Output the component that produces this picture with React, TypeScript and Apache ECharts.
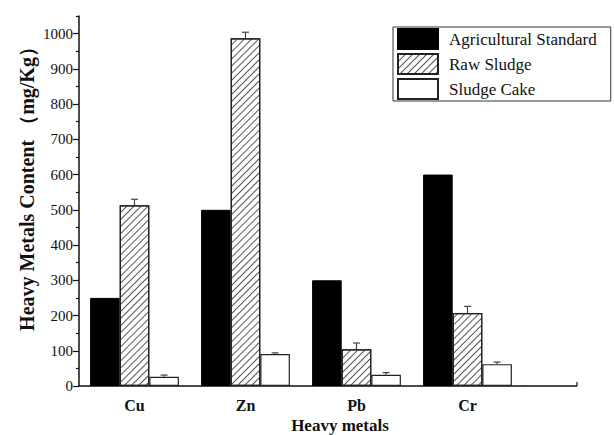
import React, { useEffect, useRef } from 'react';
import * as echarts from 'echarts';

// Heavy metal contents (mg/Kg)
const metals = ['Cu', 'Zn', 'Pb', 'Cr'];
const agriculturalStandard = [250, 500, 300, 600];
const rawSludge = [513, 987, 104, 207];
const rawSludgeErr = [17, 17, 18, 19];
const sludgeCake = [26, 91, 32, 62];
const sludgeCakeErr = [5, 3, 6, 6];

const yMajorTicks = [0, 100, 200, 300, 400, 500, 600, 700, 800, 900, 1000];
const yMinorTicks = [50, 150, 250, 350, 450, 550, 650, 750, 850, 950, 1050];
const Y_MAX = 1050;

const SERIF = 'Liberation Serif';

// plot frame in pixels
const GRID_LEFT = 79;
const GRID_TOP = 16;
const GRID_RIGHT_EDGE = 523;
const AXIS_Y = 386;
const AXIS_END = 577;
const W = 614;
const H = 435;

const BAR_CATEGORY_GAP = 0.2;

function errorBars(values: number[], errs: number[], slot: number) {
  return {
    type: 'custom',
    xAxisIndex: 0,
    yAxisIndex: 0,
    z: 5,
    silent: true,
    data: metals.map((_, i) => [i, values[i], values[i] + errs[i]]),
    encode: { x: 0, y: [1, 2] },
    renderItem: (_params: any, api: any) => {
      const base = api.coord([api.value(0), api.value(1)]);
      const top = api.coord([api.value(0), api.value(2)]);
      const band = api.size([1, 0])[0];
      const bw = (band * (1 - BAR_CATEGORY_GAP)) / 3;
      const x = base[0] + (slot - 1) * bw;
      const cap = 3.5;
      const style = { stroke: '#444', lineWidth: 1.2 };
      return {
        type: 'group',
        children: [
          { type: 'line', shape: { x1: x, y1: base[1], x2: x, y2: top[1] }, style },
          { type: 'line', shape: { x1: x - cap, y1: top[1], x2: x + cap, y2: top[1] }, style },
        ],
      };
    },
  };
}

export default function App() {
  const ref = useRef<HTMLDivElement>(null);

  useEffect(() => {
    if (!ref.current) return;
    const chart = echarts.init(ref.current, null, { renderer: 'svg' });

    const regular = { fontFamily: SERIF, fontWeight: 'normal', fontStyle: 'normal' };

    const option: any = {
      animation: false,
      backgroundColor: '#fff',
      textStyle: { ...regular },
      grid: {
        left: GRID_LEFT,
        top: GRID_TOP,
        right: W - GRID_RIGHT_EDGE,
        bottom: H - AXIS_Y,
        containLabel: false,
      },
      legend: {
        orient: 'vertical',
        left: 393,
        top: 27,
        data: ['Agricultural Standard', 'Raw Sludge', 'Sludge Cake'],
        selectedMode: false,
        icon: 'rect',
        itemWidth: 40,
        itemHeight: 20,
        itemGap: 3,
        padding: [1, 14, 1, 4],
        borderColor: '#333',
        borderWidth: 1,
        textStyle: { ...regular, fontSize: 17, color: '#111', padding: [0, 0, 0, 6] },
      },
      xAxis: [
        {
          type: 'category',
          data: metals,
          boundaryGap: true,
          axisLine: { lineStyle: { color: '#111', width: 1.5 } },
          axisTick: { inside: true, length: 4, lineStyle: { color: '#111', width: 1.2 } },
          axisLabel: {
            fontFamily: SERIF,
            fontWeight: 'bold',
            fontSize: 16,
            color: '#111',
            margin: 11,
          },
          splitLine: { show: false },
        },
        {
          type: 'category',
          data: metals,
          position: 'bottom',
          axisLine: { show: false },
          axisTick: { alignWithLabel: true, length: 5, lineStyle: { color: '#111', width: 1.2 } },
          axisLabel: { show: false },
          splitLine: { show: false },
        },
      ],
      yAxis: [
        {
          type: 'value',
          min: 0,
          max: Y_MAX,
          axisLine: { show: true, lineStyle: { color: '#111', width: 1.5 } },
          axisTick: { show: true, length: 6, customValues: yMajorTicks, lineStyle: { color: '#111', width: 1.2 } },
          axisLabel: {
            ...regular,
            customValues: yMajorTicks,
            formatter: (v: number) => String(v),
            fontSize: 15,
            color: '#111',
            margin: 6,
          },
          splitLine: { show: false },
        },
        {
          type: 'value',
          min: 0,
          max: Y_MAX,
          position: 'left',
          offset: 0,
          axisLine: { show: false },
          axisTick: { show: true, length: 3, customValues: yMinorTicks, lineStyle: { color: '#111', width: 1.2 } },
          axisLabel: { show: false },
          splitLine: { show: false },
        },
      ],
      series: [
        {
          name: 'Agricultural Standard',
          type: 'bar',
          data: agriculturalStandard,
          barGap: '0%',
          barCategoryGap: `${BAR_CATEGORY_GAP * 100}%`,
          itemStyle: { color: '#000', borderColor: '#000', borderWidth: 1 },
        },
        {
          name: 'Raw Sludge',
          type: 'bar',
          data: rawSludge,
          barGap: '0%',
          barCategoryGap: `${BAR_CATEGORY_GAP * 100}%`,
          itemStyle: {
            color: '#fff',
            borderColor: '#222',
            borderWidth: 1.2,
            decal: {
              symbol: 'rect',
              symbolSize: 1,
              color: '#555',
              backgroundColor: '#fff',
              dashArrayX: [1, 0],
              dashArrayY: [1, 3.5],
              rotation: -Math.PI / 4,
            },
          },
        },
        {
          name: 'Sludge Cake',
          type: 'bar',
          data: sludgeCake,
          barGap: '0%',
          barCategoryGap: `${BAR_CATEGORY_GAP * 100}%`,
          itemStyle: { color: '#fff', borderColor: '#222', borderWidth: 1.2 },
        },
        errorBars(rawSludge, rawSludgeErr, 1),
        errorBars(sludgeCake, sludgeCakeErr, 2),
      ],
      graphic: [
        // x axis continues past the last category
        {
          type: 'line',
          shape: { x1: GRID_RIGHT_EDGE, y1: AXIS_Y, x2: AXIS_END, y2: AXIS_Y },
          style: { stroke: '#111', lineWidth: 1.5 },
        },
        {
          type: 'line',
          shape: { x1: AXIS_END, y1: AXIS_Y, x2: AXIS_END, y2: AXIS_Y - 4 },
          style: { stroke: '#111', lineWidth: 1.2 },
        },
        {
          type: 'text',
          x: 340,
          y: 425,
          style: {
            text: 'Heavy metals',
            fontFamily: SERIF,
            fontWeight: 'bold',
            fontSize: 17,
            fill: '#111',
            align: 'center',
            verticalAlign: 'middle',
          },
        },
        {
          type: 'text',
          x: 27,
          y: 184,
          rotation: Math.PI / 2,
          style: {
            text: 'Heavy Metals Content （mg/Kg）',
            fontFamily: SERIF,
            fontWeight: 'bold',
            fontSize: 20,
            fill: '#111',
            align: 'center',
            verticalAlign: 'middle',
          },
        },
      ],
    };

    chart.setOption(option);
    return () => chart.dispose();
  }, []);

  return (
    <div
      ref={ref}
      style={{ position: 'fixed', left: 0, top: 0, width: W, height: H, background: '#fff' }}
    />
  );
}
